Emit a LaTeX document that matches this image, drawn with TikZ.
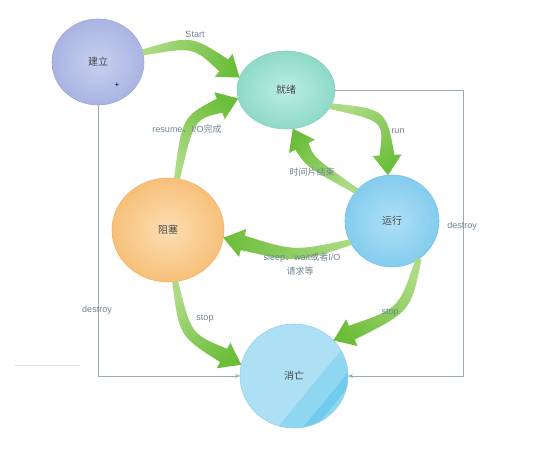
\documentclass[tikz,border=0pt]{standalone}
\usepackage{fontspec}
\setmainfont{Liberation Sans}
\newfontfamily\cjk{Noto Sans CJK SC}
\usetikzlibrary{shapes.geometric,calc,arrows.meta}
\definecolor{gLight}{HTML}{ADDA84}
\definecolor{gDark}{HTML}{6CBE3A}
\definecolor{gline}{HTML}{9AAEB1}
\definecolor{lblc}{HTML}{6E8590}
\definecolor{txtc}{HTML}{4A4A4A}
\definecolor{xwA}{HTML}{AEE0F5}
\definecolor{xwB}{HTML}{8FD6F1}
\definecolor{xwC}{HTML}{70CBEC}
\definecolor{xwD}{HTML}{92D3EE}
\definecolor{jlIn}{HTML}{C8CFEF}
\definecolor{jlOut}{HTML}{AAB4E2}
\definecolor{jlBd}{HTML}{9DA7D8}
\definecolor{jxIn}{HTML}{BAEEE3}
\definecolor{jxOut}{HTML}{8ED9C8}
\definecolor{jxBd}{HTML}{86D2C2}
\definecolor{yxIn}{HTML}{AEE0F6}
\definecolor{yxOut}{HTML}{84CCEE}
\definecolor{yxBd}{HTML}{7AC3E6}
\definecolor{zsIn}{HTML}{FCDDB2}
\definecolor{zsOut}{HTML}{F7C07A}
\definecolor{zsBd}{HTML}{EFB468}
\tikzset{
  st/.style={ellipse, outer sep=0pt, inner sep=0pt, line width=0.6pt, text=txtc, font=\cjk\fontsize{10}{12}\selectfont},
  conn/.style={draw=gline, line width=0.7pt, -{Stealth[length=5pt,width=4pt]}},
  lbl/.style={text=lblc, font=\fontsize{9}{11}\selectfont, inner sep=1pt},
  zlbl/.style={text=lblc, font=\cjk\fontsize{9}{11}\selectfont, inner sep=1pt}
}
\newcommand\greenarrow[3]{%
  \coordinate (gS) at (#1);
  \coordinate (gC) at (#2);
  \coordinate (gT) at (#3);
  \coordinate (gH) at ($(gT)!20pt!(gC)$);
  \pgfmathanglebetweenpoints{\pgfpointanchor{gS}{center}}{\pgfpointanchor{gT}{center}}%
  \pgfmathsetmacro\gang{\pgfmathresult+90}%
  \shade[top color=gLight, bottom color=gDark, shading angle=\gang]
    ($(gS)!3pt!90:(gC)$) .. controls ($(gC)!6pt!-90:(gS)$) .. ($(gH)!7.5pt!90:(gT)$)
    -- ($(gH)!14.5pt!90:(gT)$) -- (gT) -- ($(gH)!14.5pt!-90:(gT)$) -- ($(gH)!7.5pt!-90:(gT)$)
    .. controls ($(gC)!6pt!90:(gS)$) .. ($(gS)!3pt!-90:(gC)$) -- cycle;
}
\begin{document}
\begin{tikzpicture}[x=1pt,y=-1pt]
\useasboundingbox[fill=white] (0,0) rectangle (543,454);

% faint line at left
\draw[draw=black!12, line width=0.6pt] (15,365) -- (80,365);

% states
\node[st, minimum width=92pt, minimum height=86pt, draw=jlBd, inner color=jlIn, outer color=jlOut] (jl) at (98,62) {建立};
\node[st, minimum width=98pt, minimum height=78pt, draw=jxBd, inner color=jxIn, outer color=jxOut] (jx) at (286,90) {就绪};
\node[st, minimum width=94pt, minimum height=92pt, draw=yxBd, inner color=yxIn, outer color=yxOut] (yx) at (392,221) {运行};
\node[st, minimum width=112pt, minimum height=104pt, draw=zsBd, inner color=zsIn, outer color=zsOut] (zs) at (168,230) {阻塞};
\node[st, minimum width=108pt, minimum height=104pt, fill=xwA] (xw) at (294,376) {消亡};
\begin{scope}
  \clip (xw.center) ellipse [x radius=54, y radius=52];
  \fill[xwB] (409,268) -- (244,468) -- (460,468) -- (460,268) -- cycle;
  \fill[xwC] (437,265) -- (173,585) -- (185,585) -- (449,265) -- cycle;
\end{scope}
\draw[xwD, line width=0.6pt] (xw.center) ellipse [x radius=54, y radius=52];

% cursor mark
\node[text=blue!50!black, font=\fontsize{8}{8}\selectfont, inner sep=0pt] (cur) at (117,85) {+};

% destroy connectors
\coordinate (rx) at (463,0);
\draw[conn] (jl.south) -- (jl.south |- xw.west) -- (xw.west);
\draw[conn] (jx.east) -- (jx.east -| rx) -- (xw.east -| rx) -- (xw.east);

% green transitions
\greenarrow{jl.12}{192,41}{jx.165}
\greenarrow{zs.80}{188,118}{jx.190}
\greenarrow{jx.-20}{385,115}{yx.95}
\greenarrow{yx.140}{310,162}{jx.-80}
\greenarrow{yx.207}{296,257}{zs.-8}
\greenarrow{zs.-82}{185,335}{xw.168}
\greenarrow{yx.-55}{405,310}{xw.42}

% labels
\node[lbl] (lstart) at (195,34) {Start};
\node[lbl] (lres) at (187,129) {resume{\cjk 、}I/O{\cjk 完成}};
\node[lbl] (lrun) at (398,131) {run};
\node[zlbl] (ltime) at (312,172) {时间片结束};
\node[lbl] (lsleep) at (302,258) {sleep{\cjk 、}wait{\cjk 或者}I/O};
\node[zlbl] (lreq) at (300,271) {请求等};
\node[lbl] (lstop1) at (205,319) {stop};
\node[lbl] (lstop2) at (390,313) {stop};
\node[lbl] (ld1) at (97,310) {destroy};
\node[lbl] (ld2) at (462,226) {destroy};
\end{tikzpicture}
\end{document}
